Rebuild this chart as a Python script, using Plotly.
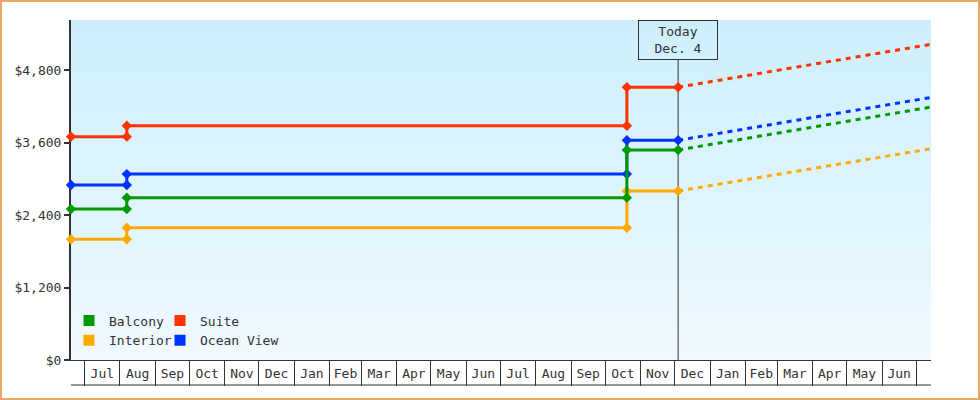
import base64
import struct
import zlib

import plotly.graph_objects as go

# ---------------- data ----------------
change_dates = ["2013-06-19", "2013-08-07", "2014-10-20"]   # dates when prices changed
today = "2014-12-04"
forecast_end = "2015-07-14"

series_names = ["Balcony", "Suite", "Interior", "Ocean View"]
balcony = [2500, 2690, 3480]
suite = [3700, 3880, 4520]
interior = [2000, 2190, 2800]
ocean_view = [2900, 3080, 3640]
forecast_end_values = [4190, 5230, 3500, 4350]   # Balcony, Suite, Interior, Ocean View

y_ticks = [0, 1200, 2400, 3600, 4800]
y_max = 5633

# ---------------- styles ----------------
colors = {"Balcony": "#009900", "Suite": "#ff3300", "Interior": "#ffaa00", "Ocean View": "#0033ff"}
legend_of = {"Balcony": "legend", "Interior": "legend", "Suite": "legend2", "Ocean View": "legend2"}
FONT = "DejaVu Sans Mono"
INK = "#333333"

W, H = 980, 400
ML, MR, MT, MB = 71, 49, 20, 40
PW, PH = W - ML - MR, H - MT - MB


def px_x(p):
    return (p - ML) / PW


def px_y(p):
    return (H - MB - p) / PH


def gradient_png(top, bottom, n=256, w=4):
    raw = b""
    for i in range(n):
        t = i / (n - 1)
        px = bytes(int(round(top[k] + (bottom[k] - top[k]) * t)) for k in range(3))
        raw += b"\x00" + px * w

    def chunk(tag, data):
        return (struct.pack(">I", len(data)) + tag + data
                + struct.pack(">I", zlib.crc32(tag + data) & 0xFFFFFFFF))

    png = (b"\x89PNG\r\n\x1a\n"
           + chunk(b"IHDR", struct.pack(">IIBBBBB", w, n, 8, 2, 0, 0, 0))
           + chunk(b"IDAT", zlib.compress(raw))
           + chunk(b"IEND", b""))
    return "data:image/png;base64," + base64.b64encode(png).decode()


values = {"Balcony": balcony, "Suite": suite, "Interior": interior, "Ocean View": ocean_view}
fc_end = dict(zip(series_names, forecast_end_values))

fig = go.Figure()

draw_order = ["Interior", "Ocean View", "Suite", "Balcony"]
for name in draw_order:
    vals = values[name]
    ends = change_dates[1:] + [today]
    xs, ys = [], []
    for d0, d1, v in zip(change_dates, ends, vals):
        xs += [d0, d1]
        ys += [v, v]
    c = colors[name]
    fig.add_trace(go.Scatter(
        x=[today, forecast_end], y=[vals[-1], fc_end[name]], mode="lines",
        line=dict(color=c, width=3, dash="5px,5px"),
        showlegend=False, hoverinfo="skip", cliponaxis=False))
    fig.add_trace(go.Scatter(
        x=xs, y=ys, mode="lines+markers",
        line=dict(color=c, width=3),
        marker=dict(symbol="diamond", size=8, color=c),
        showlegend=False, hoverinfo="skip", cliponaxis=False))

for name in series_names:
    fig.add_trace(go.Scatter(
        x=[None], y=[None], mode="markers", name=name,
        marker=dict(symbol="square", size=11, color=colors[name]),
        legend=legend_of[name]))

legend_style = dict(bgcolor="rgba(0,0,0,0)", borderwidth=0,
                    font=dict(family=FONT, size=13, color=INK),
                    xanchor="left", yanchor="top", tracegroupgap=0,
                    itemclick=False, itemdoubleclick=False)

fig.update_layout(
    width=W, height=H, autosize=False,
    margin=dict(l=ML, r=MR, t=MT, b=MB, pad=0),
    paper_bgcolor="white", plot_bgcolor="rgba(0,0,0,0)",
    font=dict(family=FONT, size=13, color=INK),
    hovermode=False,
    legend=dict(x=px_x(69), y=px_y(305.5), **legend_style),
    legend2=dict(x=px_x(160), y=px_y(305.5), **legend_style),
    xaxis=dict(
        type="date", range=[change_dates[0], forecast_end],
        showline=True, linecolor=INK, linewidth=1,
        ticks="outside", ticklen=25, tickwidth=1, tickcolor=INK,
        dtick="M1", tick0="2000-01-01", tickformat="%b", ticklabelmode="period",
        ticklabelstandoff=-24,
        tickfont=dict(family=FONT, size=13, color=INK),
        showgrid=False, zeroline=False, layer="below traces", fixedrange=True),
    yaxis=dict(
        range=[0, y_max], tickmode="array", tickvals=y_ticks,
        ticktext=[f"${v:,}" for v in y_ticks],
        showline=True, linecolor=INK, linewidth=2,
        ticks="outside", ticklen=5, tickwidth=2, tickcolor=INK,
        tickfont=dict(family=FONT, size=13, color=INK),
        showgrid=False, zeroline=False, layer="below traces", fixedrange=True),
    images=[dict(source=gradient_png((205, 239, 252), (240, 249, 255)),
                 xref="paper", yref="paper", x=0, y=1, sizex=1, sizey=1,
                 xanchor="left", yanchor="top", sizing="stretch", layer="below")],
    shapes=[
        # line under month boxes
        dict(type="line", xref="paper", yref="paper", x0=0, x1=1,
             y0=px_y(385), y1=px_y(385), line=dict(color=INK, width=1)),
        # today line
        dict(type="line", xref="x", yref="paper", x0=today, x1=today,
             y0=0, y1=px_y(60), line=dict(color=INK, width=1), layer="below"),
        # outer border
        dict(type="rect", xref="paper", yref="paper",
             x0=px_x(1), x1=px_x(W - 1), y0=px_y(H - 1), y1=px_y(1),
             line=dict(color="#e8a862", width=2)),
    ],
    annotations=[dict(
        x=today, xref="x", y=1, yref="paper", xanchor="center", yanchor="top",
        text="Today<br>Dec. 4", showarrow=False,
        font=dict(family=FONT, size=13, color=INK),
        bordercolor=INK, borderwidth=1, borderpad=2, width=74, height=34,
        bgcolor="rgba(0,0,0,0)")],
)

fig.write_html("out.html",
               config={"displayModeBar": False, "staticPlot": True},
               post_script="document.body.style.margin='0';document.body.style.overflow='hidden';")
